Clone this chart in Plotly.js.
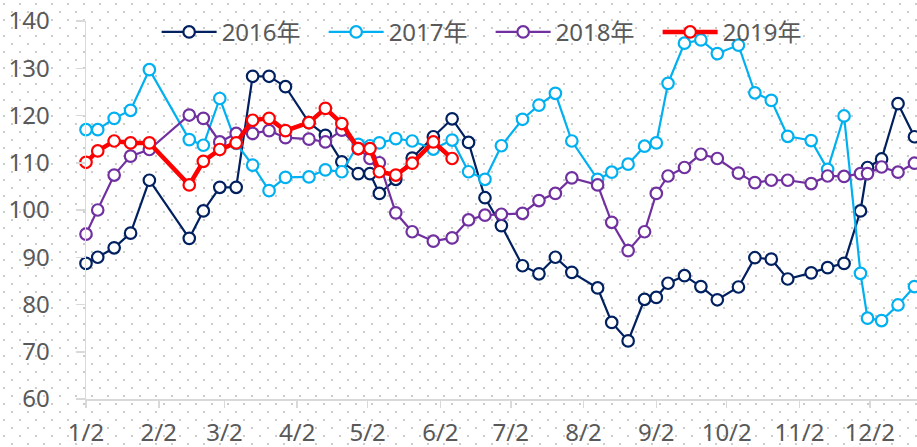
<!DOCTYPE html>
<html>
<head>
<meta charset="utf-8">
<script src="https://cdn.plot.ly/plotly-3.0.1.min.js"></script>
<style>
  html, body { margin: 0; padding: 0; background: #ffffff; }
  #chart {
    width: 917px; height: 447px;
    background-color: #ffffff;
    background-image: url("data:image/svg+xml;utf8,<svg xmlns='http://www.w3.org/2000/svg' width='16' height='16'><rect x='3' y='3' width='2' height='2' fill='%23cccccc'/><rect x='11' y='11' width='2' height='2' fill='%23cccccc'/></svg>");
    background-repeat: repeat;
  }
</style>
</head>
<body>
<div id="chart"></div>
<script>
// Dates (month-day, plotted on a common year axis)
const dates = [
  '2019-01-02','2019-01-07','2019-01-14','2019-01-21','2019-01-29',
  '2019-02-15','2019-02-21','2019-02-28','2019-03-07','2019-03-14',
  '2019-03-21','2019-03-28','2019-04-07','2019-04-14','2019-04-21',
  '2019-04-28','2019-05-03','2019-05-07','2019-05-14','2019-05-21',
  '2019-05-30','2019-06-07','2019-06-14','2019-06-21','2019-06-28',
  '2019-07-07','2019-07-14','2019-07-21','2019-07-28','2019-08-08',
  '2019-08-14','2019-08-21','2019-08-28','2019-09-02','2019-09-07',
  '2019-09-14','2019-09-21','2019-09-28','2019-10-07','2019-10-14',
  '2019-10-21','2019-10-28','2019-11-07','2019-11-14','2019-11-21',
  '2019-11-28','2019-12-01','2019-12-07','2019-12-14','2019-12-21'
];

const y2016 = [
  88.7, 90.0, 92.0, 95.1, 106.3,
  94.0, 99.8, 104.8, 104.8, 128.3,
  128.3, 126.1, 118.5, 115.8, 110.2,
  107.7, 107.7, 103.5, 106.5, 111.0,
  115.5, 119.3, 114.3, 102.6, 96.7,
  88.2, 86.5, 90.0, 86.8, 83.5,
  76.2, 72.3, 81.1, 81.5, 84.5,
  86.1, 83.8, 81.0, 83.7, 89.9,
  89.6, 85.4, 86.7, 87.8, 88.7,
  99.8, 109.0, 110.8, 122.5, 115.5
];

const y2017 = [
  117.0, 117.0, 119.4, 121.1, 129.7,
  114.9, 113.7, 123.6, 114.1, 109.5,
  104.1, 106.9, 107.0, 108.5, 108.1,
  113.9, 113.6, 114.2, 115.1, 114.6,
  112.9, 114.8, 108.1, 106.5, 113.6,
  119.2, 122.2, 124.7, 114.6, 106.5,
  108.0, 109.7, 113.5, 114.2, 126.8,
  135.3, 136.0, 133.1, 134.9, 124.8,
  123.2, 115.6, 114.7, 108.6, 119.9,
  86.6, 77.1, 76.6, 79.9, 83.8
];

const y2018 = [
  94.9, 100.0, 107.4, 111.4, 112.8,
  120.1, 119.4, 114.4, 116.2, 116.2,
  116.8, 115.3, 115.0, 114.4, 116.9,
  113.0, 110.9, 110.0, 99.4, 95.4,
  93.4, 94.1, 97.9, 98.9, 99.1,
  99.3, 102.0, 103.5, 106.8, 105.3,
  97.4, 91.4, 95.4, 103.5, 107.2,
  109.0, 111.8, 110.9, 107.8, 105.8,
  106.3, 106.3, 105.6, 107.2, 107.1,
  107.7, 107.7, 109.1, 108.0, 109.9
];

const y2019 = [
  110.1, 112.5, 114.6, 114.2, 114.2,
  105.3, 110.3, 112.8, 114.2, 119.0,
  119.4, 116.8, 118.5, 121.5, 118.3,
  113.0, 113.0, 108.1, 107.4, 109.9,
  114.4, 110.9
];

const seriesNames = ['2016年', '2017年', '2018年', '2019年'];
const seriesColors = ['#002060', '#00B0F0', '#7030A0', '#FF0000'];

const tickDates = ['2019-01-02','2019-02-02','2019-03-02','2019-04-02','2019-05-02','2019-06-02',
                   '2019-07-02','2019-08-02','2019-09-02','2019-10-02','2019-11-02','2019-12-02'];
const tickLabels = ['1/2','2/2','3/2','4/2','5/2','6/2','7/2','8/2','9/2','10/2','11/2','12/2'];

const allY = [y2016, y2017, y2018, y2019];
const FONT = "'Noto Sans', 'Noto Sans CJK SC', sans-serif";

const traces = allY.map((ys, i) => ({
  type: 'scatter',
  mode: 'lines+markers',
  name: seriesNames[i],
  x: dates.slice(0, ys.length),
  y: ys,
  cliponaxis: false,
  line: { color: seriesColors[i], width: i === 3 ? 4.5 : 2.2 },
  marker: {
    symbol: 'circle', size: 11.5, color: '#ffffff',
    line: { color: seriesColors[i], width: 2.2 }
  }
}));

const layout = {
  width: 917, height: 447,
  margin: { l: 86, r: 0, t: 21, b: 48 },
  paper_bgcolor: 'rgba(0,0,0,0)',
  plot_bgcolor: 'rgba(0,0,0,0)',
  font: { family: FONT, size: 24, color: '#595959' },
  showlegend: true,
  legend: {
    orientation: 'h',
    x: 0.085, xanchor: 'left',
    y: 0.97, yanchor: 'middle',
    bgcolor: 'rgba(0,0,0,0)',
    itemwidth: 55,
    entrywidth: 97,
    entrywidthmode: 'pixels',
    font: { family: FONT, size: 24, color: '#595959' }
  },
  xaxis: {
    type: 'date',
    range: ['2019-01-02', '2019-12-22 02:00'],
    tickvals: tickDates,
    ticktext: tickLabels,
    showgrid: false, zeroline: false,
    showline: true, linecolor: '#d9d9d9', linewidth: 1.5,
    ticks: 'outside', ticklen: 7, tickwidth: 1.5, tickcolor: '#d9d9d9',
    ticklabelstandoff: 5,
    tickfont: { family: FONT, size: 24, color: '#595959' }
  },
  yaxis: {
    range: [60, 140],
    tick0: 60, dtick: 10,
    showgrid: false, zeroline: false,
    showline: true, linecolor: '#d9d9d9', linewidth: 1.5,
    ticks: 'outside', ticklen: 9, tickwidth: 1.5, tickcolor: '#d9d9d9',
    ticklabelstandoff: 21,
    tickfont: { family: FONT, size: 24, color: '#595959' }
  }
};

Plotly.newPlot('chart', traces, layout, { displayModeBar: false, staticPlot: true });
</script>
</body>
</html>
